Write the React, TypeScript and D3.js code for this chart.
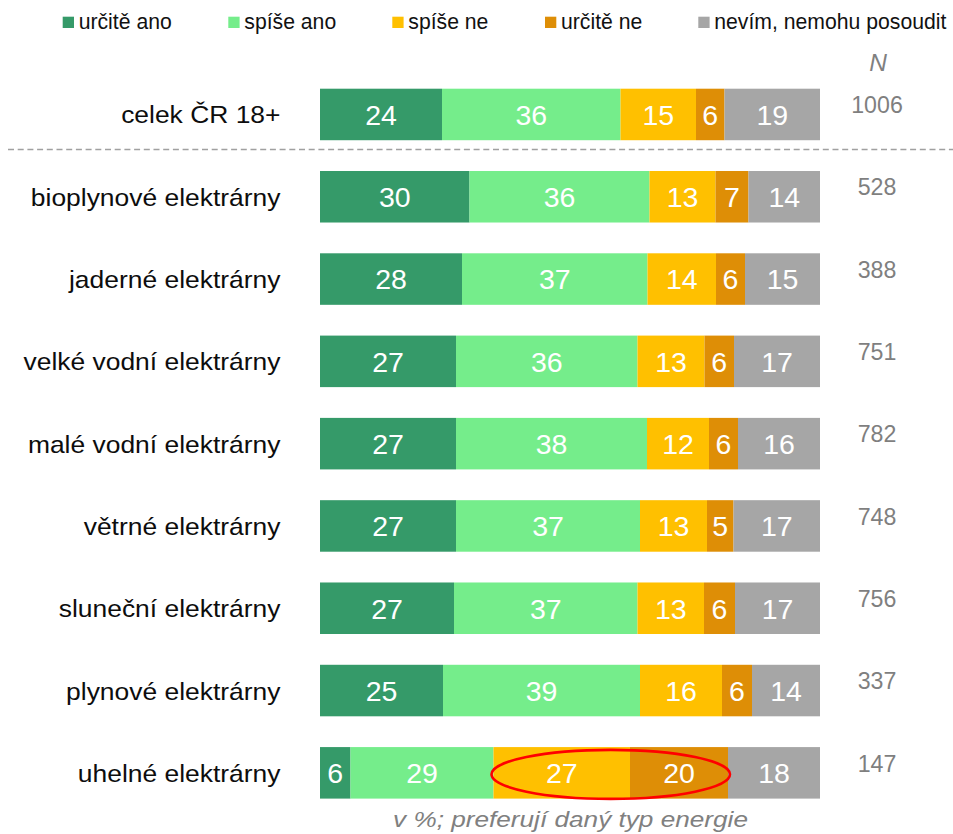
import React from "react";
import * as d3 from "d3";

const categories = [
  "celek ČR 18+",
  "bioplynové elektrárny",
  "jaderné elektrárny",
  "velké vodní elektrárny",
  "malé vodní elektrárny",
  "větrné elektrárny",
  "sluneční elektrárny",
  "plynové elektrárny",
  "uhelné elektrárny",
];

const seriesKeys = ["urcite_ano", "spise_ano", "spise_ne", "urcite_ne", "nevim"];
const seriesLabels = ["určitě ano", "spíše ano", "spíše ne", "určitě ne", "nevím, nemohu posoudit"];
const seriesColors = ["#359A69", "#75ED8B", "#FFC000", "#DE8E06", "#A6A6A6"];

const urciteAno = [24.4, 29.9, 28.4, 27.2, 27.2, 27.2, 26.8, 24.6, 6.1];
const spiseAno = [35.7, 36.0, 37.1, 36.3, 38.2, 36.8, 36.7, 39.4, 28.6];
const spiseNe = [15.1, 13.2, 13.7, 13.4, 12.4, 13.4, 13.3, 16.4, 27.3];
const urciteNe = [5.7, 6.6, 5.8, 5.9, 5.8, 5.3, 6.2, 6.0, 19.6];
const nevim = [19.1, 14.3, 15.0, 17.2, 16.4, 17.3, 17.0, 13.6, 18.4];
const nValues = [1006, 528, 388, 751, 782, 748, 756, 337, 147];

const legendX = [62.7, 228.3, 392.3, 545, 698.3];

const FONT = "'Liberation Sans', Arial, sans-serif";

export default function App() {
  const rows = categories.map((c, i) => ({
    cat: c,
    urcite_ano: urciteAno[i],
    spise_ano: spiseAno[i],
    spise_ne: spiseNe[i],
    urcite_ne: urciteNe[i],
    nevim: nevim[i],
  }));
  const stacked = d3.stack<any>().keys(seriesKeys)(rows);
  const x = d3.scaleLinear().domain([0, 100]).range([320, 820]);
  const y = d3
    .scaleBand<string>()
    .domain(categories)
    .range([88.7, 88.7 + 8 * 82.3 + 51.5])
    .paddingInner(0.374)
    .paddingOuter(0);
  const bw = y.bandwidth();
  const last = categories[categories.length - 1];
  const lastIdx = categories.length - 1;
  const sepY = y(categories[0])! + bw + 9.3;

  return (
    <svg
      width={953}
      height={834}
      style={{ position: "absolute", left: 0, top: 0, background: "#fff" }}
      fontFamily={FONT}
    >
      {/* legend */}
      {seriesLabels.map((l, i) => (
        <g key={l}>
          <rect x={legendX[i]} y={16.7} width={11.3} height={11.3} fill={seriesColors[i]} />
          <text x={legendX[i] + 16} y={29.3} fontSize={21.2} fill="#111">
            {l}
          </text>
        </g>
      ))}
      {/* N header */}
      <text x={878} y={70.7} fontSize={24.5} fontStyle="italic" fill="#808080" textAnchor="middle">
        N
      </text>
      {/* dashed separator */}
      <line
        x1={8}
        x2={953}
        y1={sepY}
        y2={sepY}
        stroke="#A0A0A0"
        strokeWidth={1.3}
        strokeDasharray="6,3.7"
      />
      {/* bars */}
      {stacked.map((s, si) => (
        <g key={s.key}>
          {s.map((d, di) => {
            const cat = categories[di];
            const x0 = x(d[0]);
            const x1 = x(d[1]);
            return (
              <g key={cat}>
                <rect x={x0} y={y(cat)} width={x1 - x0} height={bw} fill={seriesColors[si]} />
                <text
                  x={(x0 + x1) / 2}
                  y={y(cat)! + bw / 2}
                  dy="0.36em"
                  textAnchor="middle"
                  fontSize={28.5}
                  fill="#fff"
                >
                  {Math.round(d[1] - d[0])}
                </text>
              </g>
            );
          })}
        </g>
      ))}
      {/* category labels */}
      {categories.map((c) => (
        <text
          key={c}
          transform={`translate(280.5,${y(c)! + bw / 2 + 9}) scale(1.12,1)`}
          textAnchor="end"
          fontSize={23.6}
          fill="#0d0d0d"
        >
          {c}
        </text>
      ))}
      {/* N values */}
      {categories.map((c, i) => (
        <text key={c} x={877} y={y(c)! + 24.5} textAnchor="middle" fontSize={23.2} fill="#7f7f7f">
          {nValues[i]}
        </text>
      ))}
      {/* highlight ellipse */}
      <ellipse
        cx={(x(stacked[2][lastIdx][0]) + x(stacked[3][lastIdx][1])) / 2}
        cy={y(last)! + bw / 2 + 1.5}
        rx={(x(stacked[3][lastIdx][1]) - x(stacked[2][lastIdx][0])) / 2 + 2}
        ry={24.5}
        fill="none"
        stroke="#FF0000"
        strokeWidth={2.6}
      />
      {/* footer */}
      <text
        transform="translate(570.5,826.7) scale(1.19,1)"
        textAnchor="middle"
        fontSize={22}
        fontStyle="italic"
        fill="#808080"
      >
        v %; preferují daný typ energie
      </text>
    </svg>
  );
}
